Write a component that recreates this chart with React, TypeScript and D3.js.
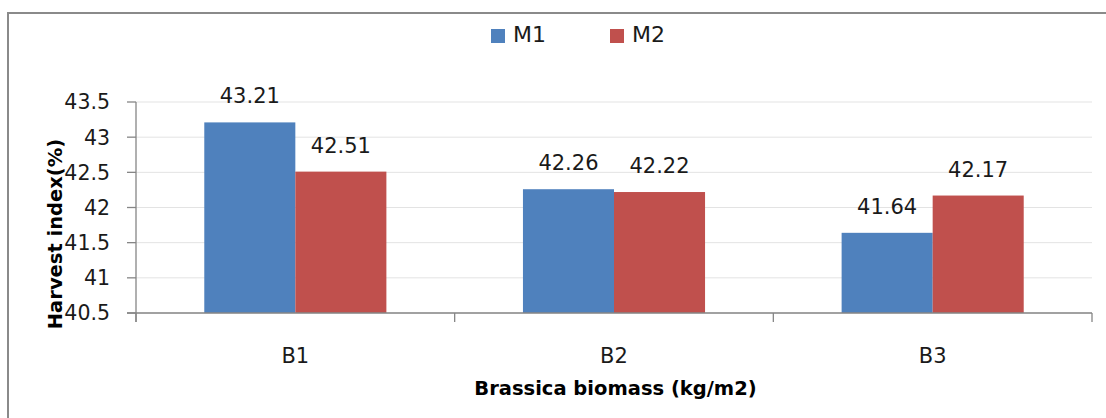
import React from "react";
import * as d3 from "d3";

// Harvest index per brassica biomass level, for two treatments
const categories = ["B1", "B2", "B3"];
const seriesNames = ["M1", "M2"];
const m1Values = [43.21, 42.26, 41.64];
const m2Values = [42.51, 42.22, 42.17];
const yTicks = [40.5, 41, 41.5, 42, 42.5, 43, 43.5];

const seriesColors = ["#4F81BD", "#C0504D"];

const W = 1106;
const H = 418;
const plot = { left: 136, right: 1092, top: 102, bottom: 313 };
const FONT = "'DejaVu Sans', 'Liberation Sans', sans-serif";

export default function App() {
  const seriesValues = [m1Values, m2Values];

  const x = d3.scaleBand<string>().domain(categories).range([plot.left, plot.right]).padding(0);
  const xInner = d3
    .scaleBand<string>()
    .domain(seriesNames)
    .range([0, x.bandwidth()])
    .paddingInner(0)
    .paddingOuter(0.75);
  const y = d3.scaleLinear().domain([40.5, 43.5]).range([plot.bottom, plot.top]);

  const fmt = d3.format(".2f");
  const tickFmt = (v: number) => (Number.isInteger(v) ? String(v) : v.toFixed(1));

  // x-axis tick marks sit at category boundaries
  const boundaries = [...categories.map((c) => x(c) as number), plot.right];

  return (
    <svg
      width={W}
      height={H}
      style={{ position: "absolute", left: 0, top: 0, display: "block", background: "#fff" }}
      fontFamily={FONT}
    >
      {/* chart frame */}
      <rect x={8} y={13} width={1120} height={430} fill="none" stroke="#8a8a8a" strokeWidth={2} />

      {/* gridlines */}
      {yTicks.map((t) => (
        <line key={"g" + t} x1={plot.left} x2={plot.right} y1={y(t)} y2={y(t)} stroke="#e3e3e3" strokeWidth={1} />
      ))}

      {/* bars */}
      {categories.map((c, i) => (
        <g key={c} transform={`translate(${x(c)},0)`}>
          {seriesNames.map((s, j) => {
            const v = seriesValues[j][i];
            const bx = xInner(s) as number;
            return (
              <g key={s}>
                <rect
                  x={bx}
                  y={y(v)}
                  width={xInner.bandwidth()}
                  height={plot.bottom - y(v)}
                  fill={seriesColors[j]}
                />
                <text
                  x={bx + xInner.bandwidth() / 2}
                  y={y(v) - 19}
                  textAnchor="middle"
                  fontSize={21}
                  fill="#1a1a1a"
                >
                  {fmt(v)}
                </text>
              </g>
            );
          })}
        </g>
      ))}

      {/* y axis */}
      <line x1={plot.left} x2={plot.left} y1={plot.top} y2={plot.bottom + 9} stroke="#868686" strokeWidth={1.3} />
      {yTicks.map((t) => (
        <g key={"y" + t}>
          <line x1={plot.left - 9} x2={plot.left} y1={y(t)} y2={y(t)} stroke="#868686" strokeWidth={1.3} />
          <text x={110} y={y(t)} dy="0.36em" textAnchor="end" fontSize={20.5} fill="#1a1a1a">
            {tickFmt(t)}
          </text>
        </g>
      ))}

      {/* x axis */}
      <line x1={plot.left - 9} x2={plot.right} y1={plot.bottom} y2={plot.bottom} stroke="#868686" strokeWidth={1.3} />
      {boundaries.map((bx, i) => (
        <line key={"xt" + i} x1={bx} x2={bx} y1={plot.bottom} y2={plot.bottom + 9} stroke="#868686" strokeWidth={1.3} />
      ))}
      {categories.map((c) => (
        <text
          key={"xl" + c}
          x={(x(c) as number) + x.bandwidth() / 2}
          y={363}
          textAnchor="middle"
          fontSize={21}
          fill="#1a1a1a"
        >
          {c}
        </text>
      ))}

      {/* axis titles */}
      <text x={615.5} y={395} textAnchor="middle" fontSize={19.5} fontWeight="bold" fill="#000">
        Brassica biomass (kg/m2)
      </text>
      <text
        transform="translate(62,234) rotate(-90)"
        textAnchor="middle"
        fontSize={19.5}
        fontWeight="bold"
        fill="#000"
      >
        Harvest index(%)
      </text>

      {/* legend */}
      {seriesNames.map((s, j) => {
        const lx = [491, 610][j];
        return (
          <g key={"lg" + s}>
            <rect x={lx} y={29} width={14} height={14} fill={seriesColors[j]} />
            <text x={lx + 22} y={42} fontSize={22} fill="#1a1a1a">
              {s}
            </text>
          </g>
        );
      })}
    </svg>
  );
}
